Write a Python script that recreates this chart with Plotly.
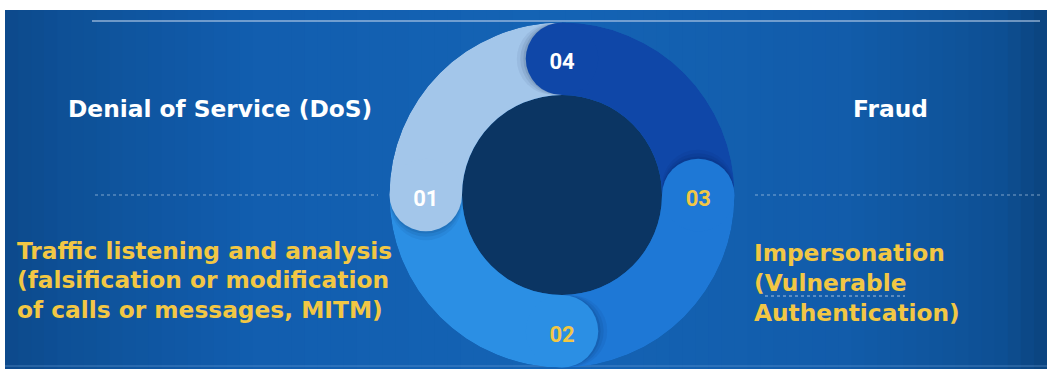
import plotly.graph_objects as go
import numpy as np

# ---------------- data ----------------
categories = ["01", "02", "03", "04"]
values = [25, 25, 25, 25]
seg_colors = ["#a3c6ea", "#2b8fe4", "#1e78d6", "#0f47a8"]
label_colors = ["#ffffff", "#f2c744", "#f2c744", "#ffffff"]

titles_top = ["Denial of Service (DoS)", "Fraud"]
left_lines = ["Traffic listening and analysis",
              "(falsification or modification",
              "of calls or messages, MITM)"]
right_lines = ["Impersonation", "(Vulnerable", "Authentication)"]

# ---------------- geometry (pixels) ----------------
W, H = 1047, 369
CX, CY = 562, 195          # ring centre (px from left / top)
R_OUT, R_IN = 172.5, 100
THICK = R_OUT - R_IN
R_MID = (R_OUT + R_IN) / 2
START = 90                 # angle where segment 01 begins (deg, ccw from east)
LABEL_DROP = 5             # labels sit a few px below cap centre

def px(x):
    return x / W

def py(y):
    return 1 - y / H

# angles from values
total = sum(values)
spans = [v / total * 360 for v in values]
heads, centers = [], []
a = START
for s in spans:
    centers.append(a + s / 2)
    heads.append(a + s)
    a += s

# label positions: cap centre moved down by LABEL_DROP px (radial axis is in px)
lab_r, lab_t = [], []
for h in heads:
    xx = R_MID * np.cos(np.radians(h))
    yy = R_MID * np.sin(np.radians(h)) - LABEL_DROP
    lab_r.append(float(np.hypot(xx, yy)))
    lab_t.append(float(np.degrees(np.arctan2(yy, xx))))

fig = go.Figure()

# inner disc
fig.add_trace(go.Barpolar(r=[R_IN], theta=[0], width=[360], base=[0],
                          marker=dict(color="#0b3563", line=dict(width=0)),
                          hoverinfo="skip", showlegend=False))
# ring bodies
fig.add_trace(go.Barpolar(r=[THICK] * 4, theta=centers, width=spans, base=[R_IN] * 4,
                          marker=dict(color=seg_colors, line=dict(width=0)),
                          hoverinfo="skip", showlegend=False))
# soft shadows in front of the caps
for shift, op in [(4.0, 0.06), (2.5, 0.08), (1.2, 0.10)]:
    fig.add_trace(go.Scatterpolar(r=[R_MID] * 4, theta=[h + shift for h in heads], mode="markers",
                                  marker=dict(size=THICK - 1, color="rgba(0,20,60,%.2f)" % op,
                                              line=dict(width=0)),
                                  hoverinfo="skip", showlegend=False))
# rounded caps
fig.add_trace(go.Scatterpolar(r=[R_MID] * 4, theta=heads, mode="markers",
                              marker=dict(size=THICK, color=seg_colors, line=dict(width=0), opacity=1),
                              hoverinfo="skip", showlegend=False))
# cap labels
fig.add_trace(go.Scatterpolar(r=lab_r, theta=lab_t, mode="text",
                              text=categories, textposition="middle center",
                              textfont=dict(family="Roboto", size=22, color=label_colors, weight="bold"),
                              hoverinfo="skip", showlegend=False))

# ---------------- background gradient ----------------
stops_x = [5, 60, 250, 560, 850, 1000, 1047]
stops_c = [(13, 74, 140), (14, 80, 150), (18, 94, 175), (21, 100, 181),
           (18, 92, 170), (14, 80, 148), (11, 68, 126)]
shapes = []
n = 80
edges = np.linspace(5, W, n + 1)
for i in range(n):
    xm = (edges[i] + edges[i + 1]) / 2
    col = [int(np.interp(xm, stops_x, [c[k] for c in stops_c])) for k in range(3)]
    shapes.append(dict(type="rect", xref="paper", yref="paper", layer="below",
                       x0=px(edges[i]), x1=px(edges[i + 1]) + 0.001, y0=0, y1=py(10),
                       fillcolor="rgb(%d,%d,%d)" % tuple(col), line=dict(width=0)))
# top rule
shapes.append(dict(type="line", xref="paper", yref="paper", layer="below",
                   x0=px(92), x1=px(1040), y0=py(21), y1=py(21),
                   line=dict(color="rgba(190,210,235,0.55)", width=2)))
# dotted separators
for x0, x1 in [(95, 378), (755, 1040)]:
    shapes.append(dict(type="line", xref="paper", yref="paper", layer="below",
                       x0=px(x0), x1=px(x1), y0=py(195), y1=py(195),
                       line=dict(color="rgba(200,220,240,0.6)", width=1, dash="dot")))
# bottom light edge
shapes.append(dict(type="line", xref="paper", yref="paper", layer="below",
                   x0=px(5), x1=1, y0=py(366), y1=py(366),
                   line=dict(color="rgba(120,170,220,0.5)", width=1)))
# dotted underline under "Vulnerable"
shapes.append(dict(type="line", xref="paper", yref="paper",
                   x0=px(765), x1=px(905), y0=py(296), y1=py(296),
                   line=dict(color="rgba(230,235,245,0.7)", width=1, dash="dot")))

# ---------------- text ----------------
ann = []
FONT = "DejaVu Sans"
FS = 23.3
head_font = dict(family=FONT, size=FS, color="#ffffff", weight="bold")
ann.append(dict(text=titles_top[0], x=px(220), y=py(108), xref="paper", yref="paper",
                showarrow=False, xanchor="center", yanchor="middle", font=head_font))
ann.append(dict(text=titles_top[1], x=px(890), y=py(108), xref="paper", yref="paper",
                showarrow=False, xanchor="center", yanchor="middle", font=head_font))
yel_font = dict(family=FONT, size=FS, color="#f2c744", weight="bold")
for i, t in enumerate(left_lines):
    ann.append(dict(text=t, x=px(15), y=py(250 + 29.5 * i), xref="paper", yref="paper",
                    showarrow=False, xanchor="left", yanchor="middle", font=yel_font))
for i, t in enumerate(right_lines):
    ann.append(dict(text=t, x=px(752), y=py(252 + 30 * i), xref="paper", yref="paper",
                    showarrow=False, xanchor="left", yanchor="middle", font=yel_font))

fig.update_layout(
    width=W, height=H,
    margin=dict(l=0, r=0, t=0, b=0),
    paper_bgcolor="#ffffff",
    plot_bgcolor="rgba(0,0,0,0)",
    shapes=shapes,
    annotations=ann,
    showlegend=False,
    polar=dict(
        domain=dict(x=[px(CX - R_OUT), px(CX + R_OUT)],
                    y=[py(CY + R_OUT), py(CY - R_OUT)]),
        bgcolor="rgba(0,0,0,0)",
        radialaxis=dict(visible=False, range=[0, R_OUT], showgrid=False),
        angularaxis=dict(visible=False, showgrid=False, rotation=0, direction="counterclockwise"),
        hole=0,
    ),
)

fig.write_html("out.html")
